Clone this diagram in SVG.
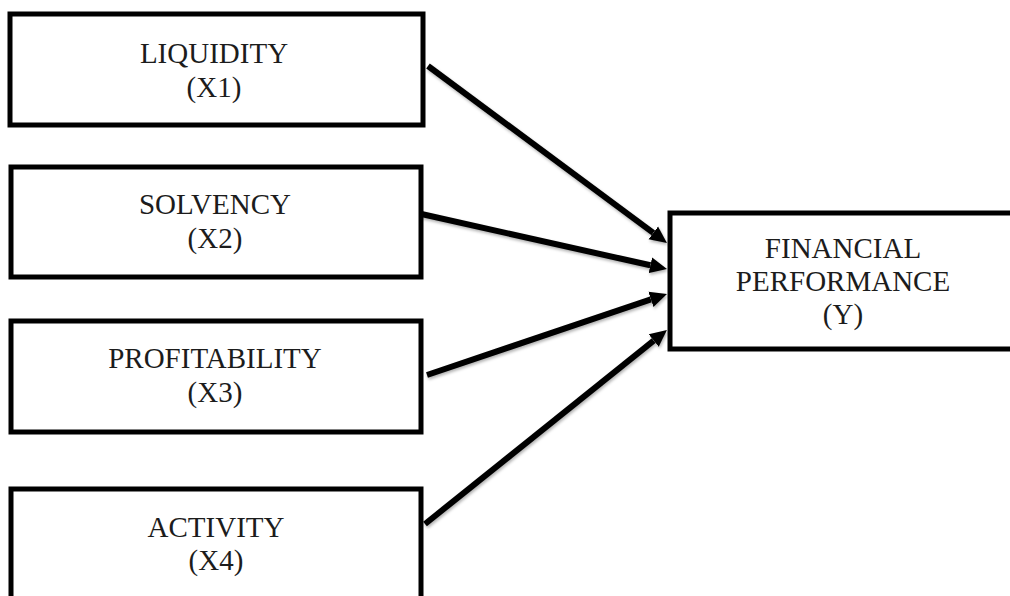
<svg xmlns="http://www.w3.org/2000/svg" width="1010" height="596" viewBox="0 0 1010 596">
  <style>
    .box { fill: #ffffff; stroke: #000000; stroke-width: 5; }
    .lbl { font-family: "Liberation Serif", "Times New Roman", serif; font-size: 29px; fill: #1c1c1c; text-anchor: middle; }
    .conn { stroke: #000000; stroke-width: 6; fill: none; marker-end: url(#arrow); }
  </style>
  <defs>
    <marker id="arrow" markerUnits="userSpaceOnUse" markerWidth="18" markerHeight="18" viewBox="0 0 18 18" refX="0" refY="9" orient="auto">
      <path d="M0,1 L17,9 L0,17 Z" fill="#000000"/>
    </marker>
    <filter id="shadow" x="-10%" y="-10%" width="120%" height="130%">
      <feDropShadow dx="1" dy="2" stdDeviation="1.5" flood-color="#000000" flood-opacity="0.3"/>
    </filter>
  </defs>
  <rect width="1010" height="596" fill="#ffffff"/>

  <g id="connectors" filter="url(#shadow)">
    <line class="conn" x1="428" y1="66" x2="653.3" y2="232.9"/>
    <line class="conn" x1="417" y1="213" x2="650.4" y2="265.3"/>
    <line class="conn" x1="427" y1="375" x2="650.9" y2="299.4"/>
    <line class="conn" x1="425" y1="524" x2="653.7" y2="340.6"/>
  </g>

  <g id="liquidity">
    <rect class="box" x="10" y="14" width="413" height="111"/>
    <text class="lbl" x="214" y="63">LIQUIDITY</text>
    <text class="lbl" x="214" y="97">(X1)</text>
  </g>

  <g id="solvency">
    <rect class="box" x="11" y="167" width="410" height="110"/>
    <text class="lbl" x="215" y="214">SOLVENCY</text>
    <text class="lbl" x="215" y="248">(X2)</text>
  </g>

  <g id="profitability">
    <rect class="box" x="11" y="321" width="410" height="111"/>
    <text class="lbl" x="215" y="368">PROFITABILITY</text>
    <text class="lbl" x="215" y="402">(X3)</text>
  </g>

  <g id="activity">
    <rect class="box" x="11" y="489" width="410" height="140"/>
    <text class="lbl" x="216" y="537">ACTIVITY</text>
    <text class="lbl" x="216" y="570">(X4)</text>
  </g>

  <g id="financial-performance">
    <rect class="box" x="670" y="213" width="345" height="136"/>
    <text class="lbl" x="843" y="258">FINANCIAL</text>
    <text class="lbl" x="843" y="291">PERFORMANCE</text>
    <text class="lbl" x="843" y="324">(Y)</text>
  </g>
</svg>
